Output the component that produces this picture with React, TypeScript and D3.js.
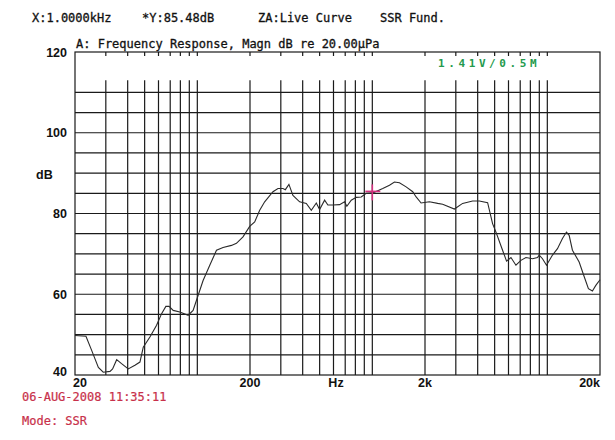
import * as d3 from 'd3';

// Measured curve: frequency (Hz) and level (dB)
const freqs = [
  20, 23.1, 24.9, 27.2, 29.0, 31.7, 32.8, 34.6, 36.9, 40.3, 44.0, 47.0, 49.1, 53.6, 58.5,
  62.5, 66.1, 69.0, 72.8, 79.4, 88.6, 94.6, 101, 107.9, 117.8, 128.7, 140.3, 156.7, 167.3,
  182.4, 199.2, 212.7, 227.2, 242.6, 270.6, 289, 308.6, 318.4, 333.8, 351.9, 384.2, 419.5,
  448.1, 478.6, 499.8, 533.8, 557.3, 595.2, 649.9, 694, 715.4, 757.9, 809.1, 864.2, 922.8,
  1006, 1147, 1253, 1338, 1429, 1560, 1702, 1780, 1900, 2119, 2363, 2523, 2944, 3281, 3743,
  4088, 4559, 4866, 5089, 5550, 5849, 6197, 6617, 7067, 7548, 8233, 8790, 8988, 9385, 9893,
  10705, 11429, 12204, 12863, 13327, 13917, 15202, 16233, 17174, 18102, 18929, 20000,
];
const levels = [
  49.8, 49.6, 46.1, 41.9, 40.7, 40.9, 41.5, 43.8, 42.8, 41.5, 42.4, 43.2, 46.9, 49.4, 52.3,
  55.2, 57.0, 57.0, 56.0, 55.6, 54.8, 56.0, 59.7, 63.4, 67.2, 70.9, 71.6, 72.1, 72.6,
  74.2, 76.8, 77.9, 80.8, 82.9, 85.4, 86.2, 86.2, 85.9, 87.2, 84.5, 82.9, 82.5,
  80.8, 82.6, 81.0, 83.3, 82.1, 82.1, 82.2, 82.9, 81.8, 83.3, 84.0, 84.1, 85.0,
  85.1, 86.2, 87.0, 87.8, 87.6, 86.6, 85.4, 84.1, 82.6, 82.9, 82.5, 82.3, 81.1, 82.5, 83.1,
  83.1, 82.7, 77.5, 75.4, 70.9, 68.2, 69.1, 67.2, 68.4, 69.1, 68.8, 69.1, 69.7, 68.8, 67.2,
  69.7, 71.3, 73.8, 75.4, 74.6, 70.9, 68.0, 64.4, 61.4, 60.8, 62.2, 63.6,
];

const gridFreqs = [
  30, 40, 50, 60, 70, 80, 90, 100,
  200, 300, 400, 500, 600, 700, 800, 900, 1000,
  2000, 3000, 4000, 5000, 6000, 7000, 8000, 9000, 10000,
];
const gridLevels = [45, 50, 55, 60, 65, 70, 75, 80, 85, 90, 95, 100, 105, 110];
const yTicks = [120, 100, 80, 60, 40];
const xTicks: [number, string][] = [
  [20, '20'],
  [200, '200'],
  [2000, '2k'],
  [20000, '20k'],
];
const cursor = { f: 1000, db: 85.48 };

const W = 615;
const H = 440;
const mono = "'DejaVu Sans Mono', monospace";
const sans = "'Liberation Sans', Arial, sans-serif";

export default function App() {
  const x = d3.scaleLog().domain([20, 20000]).range([75, 600]);
  const y = d3.scaleLinear().domain([40, 120]).range([375, 52]);

  const pts: [number, number][] = freqs.map((f, i) => [f, levels[i]]);
  const line = d3
    .line<[number, number]>()
    .x((d) => x(d[0]))
    .y((d) => y(d[1]));

  const left = x(20);
  const right = x(20000);
  const top = y(120);
  const bottom = y(40);
  const gridTop = y(113);
  const cx = x(cursor.f);
  const cy = y(cursor.db);

  return (
    <svg
      width={W}
      height={H}
      viewBox={`0 0 ${W} ${H}`}
      style={{ position: 'fixed', left: 0, top: 0, background: '#fff' }}
    >
      <rect width={W} height={H} fill="#fff" />

      {/* header */}
      <g fontFamily={mono} fontSize={12} fill="#111" stroke="#111" strokeWidth={0.3}>
        <text x={32} y={22}>X:1.0000kHz</text>
        <text x={142} y={22}>*Y:85.48dB</text>
        <text x={258} y={22}>ZA:Live Curve</text>
        <text x={380} y={22}>SSR Fund.</text>
        <text x={76} y={48}>A: Frequency Response, Magn dB re 20.00µPa</text>
      </g>

      {/* grid */}
      <g stroke="#1a1a1a" strokeWidth={1.2}>
        {gridLevels.map((v) => (
          <line key={`h${v}`} x1={left} x2={right} y1={y(v)} y2={y(v)} />
        ))}
        {gridFreqs.map((f) => (
          <line key={`v${f}`} x1={x(f)} x2={x(f)} y1={gridTop} y2={bottom} />
        ))}
        {gridFreqs.map((f) => (
          <line key={`t${f}`} x1={x(f)} x2={x(f)} y1={top} y2={top + 4} />
        ))}
        <rect x={left} y={top} width={right - left} height={bottom - top} fill="none" />
      </g>

      <text
        x={438}
        y={67}
        fontFamily={mono}
        fontSize={11}
        fontWeight="bold"
        letterSpacing={3.6}
        fill="#239a4c"
      >
        1.41V/0.5M
      </text>

      {/* curve */}
      <path d={line(pts) ?? ''} fill="none" stroke="#2a2a2a" strokeWidth={1.1} />

      {/* cursor */}
      <g stroke="#d4307f" strokeWidth={1.6}>
        <line x1={cx} x2={cx} y1={cy - 7} y2={cy + 9} />
        <line x1={cx - 7} x2={cx + 8} y1={cy} y2={cy} />
      </g>

      {/* axis labels */}
      <g fontFamily={sans} fontSize={12.5} fontWeight="bold" fill="#111">
        {yTicks.map((v) => (
          <text key={v} x={67} y={v === 40 ? y(v) + 1 : y(v) + 4.5} textAnchor="end">
            {v}
          </text>
        ))}
        <text x={36} y={179}>dB</text>
        {xTicks.map(([f, s]) => (
          <text
            key={s}
            x={f === 20 ? x(f) - 2 : x(f)}
            y={387}
            textAnchor={f === 20 ? 'start' : f === 20000 ? 'end' : 'middle'}
          >
            {s}
          </text>
        ))}
        <text x={336} y={387} textAnchor="middle">Hz</text>
      </g>

      {/* footer */}
      <g fontFamily={mono} fontSize={12} fill="#c8304a" stroke="#c8304a" strokeWidth={0.2}>
        <text x={22} y={401}>06-AUG-2008 11:35:11</text>
        <text x={22} y={425}>Mode: SSR</text>
      </g>
    </svg>
  );
}
